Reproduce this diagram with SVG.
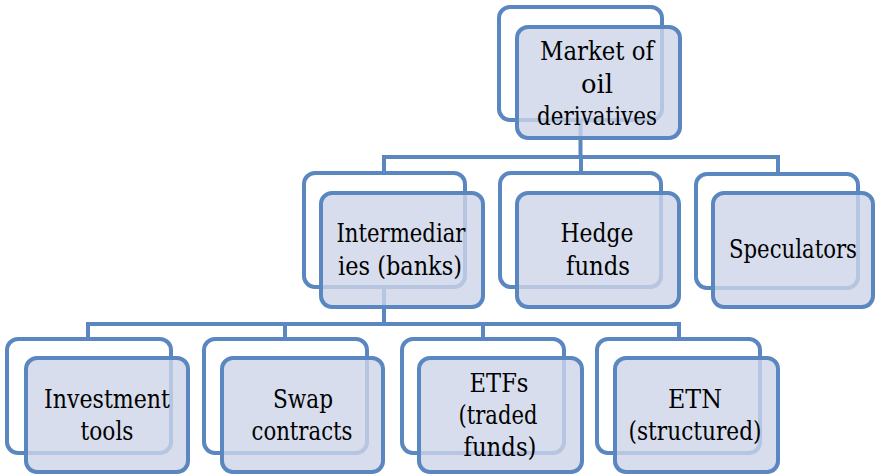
<svg xmlns="http://www.w3.org/2000/svg" width="876" height="475" viewBox="0 0 876 475">
<style>
.back{fill:#ffffff;stroke:#5B87C0;stroke-width:4}
.front{fill:#CDD5E7;fill-opacity:0.8;stroke:#5B87C0;stroke-width:4}
.conn{fill:none;stroke:#5B87C0;stroke-width:4}
.t{font-family:'DejaVu Serif',serif;font-size:26px;fill:#000000;text-anchor:middle}
</style>
<rect x="0" y="0" width="876" height="475" fill="#ffffff"/>
<g id="connectors">
<path class="conn" d="M580.5,120 V157 M384,173 V157 H778 V175 M581,157 V173"/>
<path class="conn" d="M384,287 V324 M88,339 V324 H679 V339 M285,324 V339 M483,324 V339"/>
</g>
<g id="market">
<rect class="back" x="499" y="7" width="163" height="113" rx="11"/>
<rect class="front" x="517" y="27" width="163" height="111" rx="11"/>
<text class="t" x="597" y="60" textLength="114" lengthAdjust="spacingAndGlyphs">Market of</text>
<text class="t" x="597" y="93" textLength="32" lengthAdjust="spacingAndGlyphs">oil</text>
<text class="t" x="597" y="125" textLength="120" lengthAdjust="spacingAndGlyphs">derivatives</text>
</g>
<g id="intermediaries">
<rect class="back" x="304" y="173" width="161" height="114" rx="11"/>
<rect class="front" x="321" y="193" width="162" height="114" rx="11"/>
<text class="t" x="401" y="242" textLength="129" lengthAdjust="spacingAndGlyphs">Intermediar</text>
<text class="t" x="400" y="275" textLength="124" lengthAdjust="spacingAndGlyphs">ies (banks)</text>
</g>
<g id="hedge">
<rect class="back" x="500" y="173" width="161" height="114" rx="11"/>
<rect class="front" x="517" y="193" width="162" height="114" rx="11"/>
<text class="t" x="597" y="242" textLength="73" lengthAdjust="spacingAndGlyphs">Hedge</text>
<text class="t" x="598" y="275" textLength="64" lengthAdjust="spacingAndGlyphs">funds</text>
</g>
<g id="speculators">
<rect class="back" x="696" y="174" width="162" height="114" rx="11"/>
<rect class="front" x="713" y="193" width="160" height="114" rx="11"/>
<text class="t" x="793" y="258" textLength="128" lengthAdjust="spacingAndGlyphs">Speculators</text>
</g>
<g id="investment">
<rect class="back" x="7" y="339" width="164" height="114" rx="11"/>
<rect class="front" x="26" y="358" width="162" height="114" rx="11"/>
<text class="t" x="107" y="408" textLength="126" lengthAdjust="spacingAndGlyphs">Investment</text>
<text class="t" x="107" y="440" textLength="53" lengthAdjust="spacingAndGlyphs">tools</text>
</g>
<g id="swap">
<rect class="back" x="204" y="339" width="163" height="114" rx="11"/>
<rect class="front" x="222" y="358" width="161" height="114" rx="11"/>
<text class="t" x="303" y="408" textLength="60" lengthAdjust="spacingAndGlyphs">Swap</text>
<text class="t" x="302" y="440" textLength="101" lengthAdjust="spacingAndGlyphs">contracts</text>
</g>
<g id="etfs">
<rect class="back" x="402" y="339" width="162" height="114" rx="11"/>
<rect class="front" x="419" y="358" width="163" height="114" rx="11"/>
<text class="t" x="499" y="392" textLength="59" lengthAdjust="spacingAndGlyphs">ETFs</text>
<text class="t" x="498" y="424" textLength="79" lengthAdjust="spacingAndGlyphs">(traded</text>
<text class="t" x="500" y="456" textLength="73" lengthAdjust="spacingAndGlyphs">funds)</text>
</g>
<g id="etn">
<rect class="back" x="597" y="339" width="163" height="114" rx="11"/>
<rect class="front" x="615" y="358" width="163" height="114" rx="11"/>
<text class="t" x="695" y="408" textLength="54" lengthAdjust="spacingAndGlyphs">ETN</text>
<text class="t" x="695" y="440" textLength="133" lengthAdjust="spacingAndGlyphs">(structured)</text>
</g>
</svg>
